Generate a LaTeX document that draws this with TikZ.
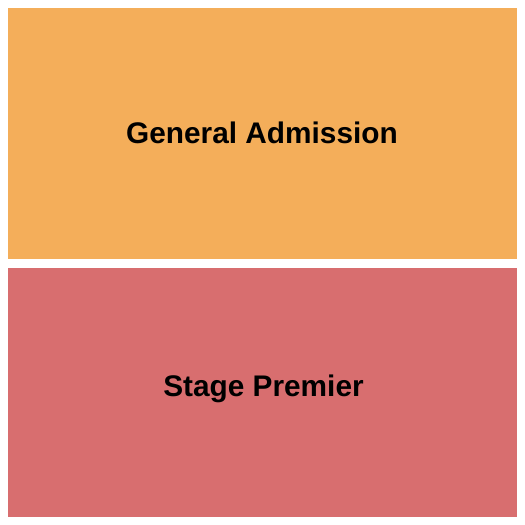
\documentclass[tikz,border=0pt]{standalone}
\usepackage{fontspec}
\setmainfont{Liberation Sans}
\begin{document}
\begin{tikzpicture}[x=1pt,y=-1pt,
  zone/.style={draw=none},
  zlabel/.style={font=\bfseries\fontsize{29.8}{34}\selectfont, text=black, anchor=base, inner sep=0pt}]
\useasboundingbox (0,0) rectangle (525,525);
\fill[white] (0,0) rectangle (525,525);
\fill[zone, fill={rgb,255:red,244;green,174;blue,90}] (8,8) rectangle (517,259);
\fill[zone, fill={rgb,255:red,216;green,110;blue,111}] (8,268) rectangle (517,517);
\node[zlabel] (ga) at (262,143.5) {General Admission};
\node[zlabel] (sp) at (263.5,396) {Stage Premier};
\end{tikzpicture}
\end{document}
